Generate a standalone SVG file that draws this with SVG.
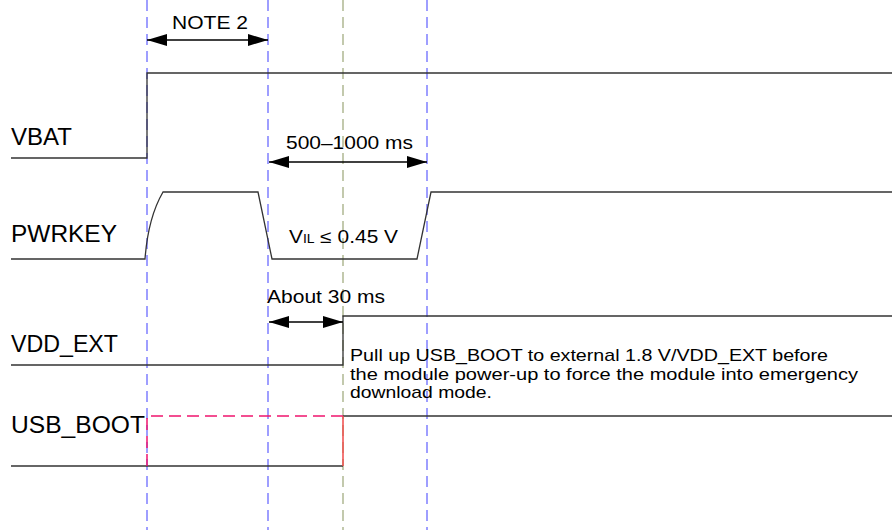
<svg xmlns="http://www.w3.org/2000/svg" width="892" height="530" viewBox="0 0 892 530">
<style>
.sig{fill:none;stroke:#333;stroke-width:1.3}
.guide{fill:none;stroke:#6b6bff;stroke-width:1.3;stroke-dasharray:11,6}
.guide2{fill:none;stroke:#a3ad82;stroke-width:1.3;stroke-dasharray:11,6}
.lbl{font-family:"Liberation Sans",Arial,sans-serif;font-size:23px;fill:#000}
.txt{font-family:"Liberation Sans",Arial,sans-serif;font-size:18px;fill:#000}
.note{font-family:"Liberation Sans",Arial,sans-serif;font-size:17px;fill:#000}
.dim{fill:none;stroke:#000;stroke-width:1.3}
</style>
<defs>
<marker id="ah" viewBox="0 0 20 12" refX="20" refY="6" markerWidth="20" markerHeight="12" markerUnits="userSpaceOnUse" orient="auto-start-reverse">
<path d="M0,0 L20,6 L0,12 Z" fill="#000"/>
</marker>
</defs>
<rect width="892" height="530" fill="#fff"/>
<g id="guides">
<line class="guide" x1="147" y1="0" x2="147" y2="530"/>
<line class="guide" x1="268" y1="0" x2="268" y2="530"/>
<line class="guide" x1="427" y1="0" x2="427" y2="530"/>
<line class="guide2" x1="343" y1="0" x2="343" y2="530"/>
</g>
<g id="vbat">
<text class="lbl" x="11" y="145" textLength="61" lengthAdjust="spacingAndGlyphs">VBAT</text>
<path class="sig" d="M11,158 H147 V73 H892"/>
</g>
<g id="pwrkey">
<text class="lbl" x="11" y="242" textLength="106" lengthAdjust="spacingAndGlyphs">PWRKEY</text>
<path class="sig" d="M11,259 H145 C147,232 152,211 163,192 H258 L272,259 H417 L431,192 H892"/>
<text class="txt" x="289" y="243" textLength="109" lengthAdjust="spacingAndGlyphs">V<tspan font-size="12">IL</tspan> ≤ 0.45 V</text>
</g>
<g id="vdd_ext">
<text class="lbl" x="11" y="352" textLength="107" lengthAdjust="spacingAndGlyphs">VDD_EXT</text>
<path class="sig" d="M11,365 H343 V316 H892"/>
</g>
<g id="usb_boot">
<text class="lbl" x="11" y="433" textLength="134" lengthAdjust="spacingAndGlyphs">USB_BOOT</text>
<path class="sig" d="M11,466 H343"/>
<path class="sig" d="M343,416 H892"/>
<path d="M147,466 V416 H343" fill="none" stroke="#f0146e" stroke-width="1.5" stroke-dasharray="12,6"/>
<line x1="343" y1="416" x2="343" y2="466" stroke="#f04a4a" stroke-width="1.5"/>
</g>
<g id="note">
<text class="note" x="350" y="361" textLength="478" lengthAdjust="spacingAndGlyphs">Pull up USB_BOOT to external 1.8 V/VDD_EXT before</text>
<text class="note" x="350" y="379.5" textLength="508" lengthAdjust="spacingAndGlyphs">the module power-up to force the module into emergency</text>
<text class="note" x="350" y="398" textLength="142" lengthAdjust="spacingAndGlyphs">download mode.</text>
</g>
<g id="connectors">
<line class="dim" x1="147" y1="40" x2="268" y2="40" marker-start="url(#ah)" marker-end="url(#ah)"/>
<text class="txt" x="172" y="29" textLength="76" lengthAdjust="spacingAndGlyphs">NOTE 2</text>
<line class="dim" x1="269" y1="162" x2="427" y2="162" marker-start="url(#ah)" marker-end="url(#ah)"/>
<text class="txt" x="286" y="149" textLength="127" lengthAdjust="spacingAndGlyphs">500–1000 ms</text>
<line class="dim" x1="269" y1="322" x2="343" y2="322" marker-start="url(#ah)" marker-end="url(#ah)"/>
<text class="txt" x="267" y="303" textLength="118" lengthAdjust="spacingAndGlyphs">About 30 ms</text>
</g>
</svg>
